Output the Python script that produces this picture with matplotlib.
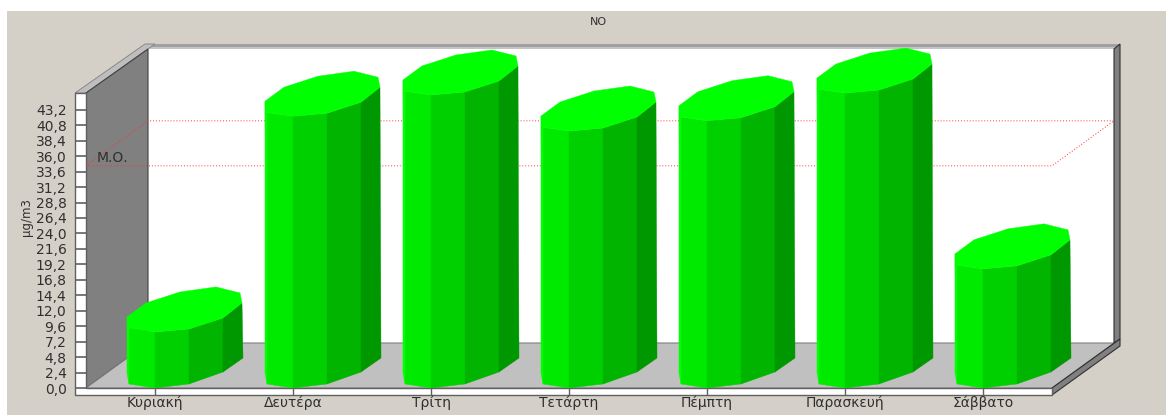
import matplotlib
matplotlib.use("Agg")
import matplotlib.pyplot as plt
from matplotlib.patches import Polygon

days = ["Κυριακή", "Δευτέρα", "Τρίτη", "Τετάρτη", "Πέμπτη", "Παρασκευή", "Σάββατο"]
values = [8.7, 42.2, 45.5, 39.9, 41.5, 45.8, 18.5]
mean_value = 34.5
y_ticks = [0.0, 2.4, 4.8, 7.2, 9.6, 12.0, 14.4, 16.8, 19.2, 21.6, 24.0, 26.4, 28.8,
           31.2, 33.6, 36.0, 38.4, 40.8, 43.2]
y_tick_labels = ["0,0", "2,4", "4,8", "7,2", "9,6", "12,0", "14,4", "16,8", "19,2", "21,6", "24,0",
                 "26,4", "28,8", "31,2", "33,6", "36,0", "38,4", "40,8", "43,2"]

W, H = 1166, 416
px_x = 138.0   # pixels per category
px_y = 6.44    # pixels per unit
text_col = "#303030"

fig = plt.figure(figsize=(W / 100, H / 100), dpi=100, facecolor="white")

# background layer in pixel coordinates, for the 3D box
bg = fig.add_axes([0, 0, 1, 1])
bg.set_xlim(0, W)
bg.set_ylim(H, 0)
bg.axis("off")


def face(pts, color, edge="none", lw=0.0):
    bg.add_patch(Polygon(pts, closed=True, facecolor=color, edgecolor=edge, linewidth=lw))


face([(7, 11), (W, 11), (W, 415), (7, 415)], "#d4d0c8")
face([(148, 49), (1114, 49), (1114, 343), (148, 343)], "white")
face([(145, 44), (1120, 44), (1120, 47), (150, 47)], "#a0a0a0")
face([(150, 47), (1120, 47), (1114, 49), (148, 49)], "#c4c4c4")
face([(75, 93), (86, 93), (155, 44), (145, 44)], "#bebebe", "#808080", 0.6)
face([(86, 93), (148, 49), (148, 343), (86, 388)], "#808080", "#404040", 0.8)
face([(86, 388), (148, 343), (1114, 343), (1052, 388)], "#c0c0c0", "#808080", 0.8)
face([(1114, 49), (1120, 44), (1120, 339), (1114, 343)], "#808080", "#303030", 0.8)
face([(1052, 388), (1120, 339), (1120, 346), (1052, 395)], "#808080", "#303030", 0.8)
face([(75, 93), (86, 93), (86, 388), (1052, 388), (1052, 395), (75, 395)], "white", "#606060", 1.0)

# main axes sit on the front plane of the box
ax = fig.add_axes([86 / W, 1 - 388 / H, 966 / W, 295 / H])
ax.patch.set_alpha(0)
ax.set_xlim(0, len(days))
ax.set_ylim(0, 295 / px_y)
for s in ax.spines.values():
    s.set_visible(False)

ax.set_yticks(y_ticks)
ax.set_yticklabels(y_tick_labels, fontsize=10, color=text_col)
ax.tick_params(axis="y", length=11 * 0.72, width=1.2, color="#606060", pad=6)
ax.set_xticks([i + 0.5 for i in range(len(days))])
ax.set_xticklabels(days, fontsize=10, color=text_col)
ax.tick_params(axis="x", length=7 * 0.72, width=1.0, color="#606060", pad=0)

# mean line runs along the back wall and the front plane
depth_x = 62 / px_x
depth_y = 45 / px_y
n = len(days)
mean_xs = [0, depth_x, n + depth_x, n, 0]
mean_ys = [mean_value, mean_value + depth_y, mean_value + depth_y, mean_value, mean_value]
ax.plot(mean_xs, mean_ys, color="#ff3030", linestyle=(0, (1, 2)), linewidth=0.7,
        clip_on=False, zorder=1)
ax.text(11 / px_x, mean_value + 0.2, "Μ.Ο.", fontsize=10, color=text_col,
        va="bottom", ha="left")

# outline of one column, in pixels from its front point (up is positive)
side_top = [(-28, 4), (0, 0), (34, 3), (68, 14), (87, 29)]
side_bottom = [(-26, 4), (0, 0), (34, 4), (68, 16), (88, 30)]
cap_back = [(85, 39), (61, 45), (25, 40), (-9, 29), (-28, 15)]
side_colors = ["#00ea00", "#00d000", "#00b400", "#009800"]


def pt(i, base, off):
    return (i + 0.5 + off[0] / px_x, base + off[1] / px_y)


for i, v in enumerate(values):
    for k, col in enumerate(side_colors):
        poly = [pt(i, v, side_top[k]), pt(i, v, side_top[k + 1]),
                pt(i, 0, side_bottom[k + 1]), pt(i, 0, side_bottom[k])]
        ax.add_patch(Polygon(poly, closed=True, facecolor=col, edgecolor=col, linewidth=0.3,
                             clip_on=False, zorder=3))
    # light rim down the left edge
    rim = [pt(i, v, (-28, 15)), pt(i, v, (-26, 4)), pt(i, 0, (-26, 4)), pt(i, 0, (-28, 15))]
    ax.add_patch(Polygon(rim, closed=True, facecolor="#00ff00", edgecolor="#00ff00", linewidth=0.3,
                         clip_on=False, zorder=4))
    # top cap
    cap = [pt(i, v, p) for p in side_top + cap_back]
    ax.add_patch(Polygon(cap, closed=True, facecolor="#00ff00", edgecolor="#00ff00", linewidth=0.3,
                         clip_on=False, zorder=5))

fig.text(598 / W, 1 - 22 / H, "ΝΟ", fontsize=8, color=text_col, ha="center", va="center")
fig.text(26 / W, 1 - 217 / H, "μg/m3", fontsize=8.5, color=text_col, rotation=90,
         ha="center", va="center")

fig.savefig("out.png", dpi=100)
